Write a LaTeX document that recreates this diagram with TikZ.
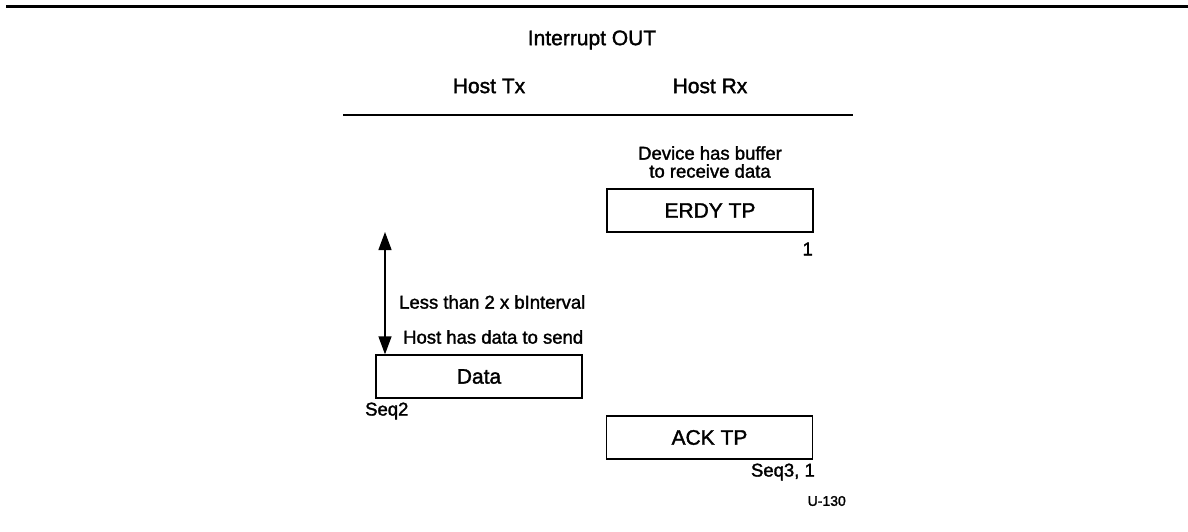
\documentclass[tikz,border=0pt]{standalone}
\usepackage{fontspec}
\setmainfont{Liberation Sans}
\newfontfamily\medfont[FakeBold=1.6]{Liberation Sans}
\usetikzlibrary{arrows.meta}
\begin{document}
\begin{tikzpicture}[x=1pt,y=-1pt,
  head/.style={font=\medfont\fontsize{21}{24}\selectfont, inner sep=0pt},
  small/.style={font=\medfont\fontsize{18.5}{18}\selectfont, inner sep=0pt},
  tiny/.style={font=\medfont\fontsize{14}{16}\selectfont, inner sep=0pt},
  pkt/.style={draw, line width=1.3pt, minimum width=206pt, minimum height=43pt, inner sep=0pt, font=\medfont\fontsize{21}{24}\selectfont},
  rule/.style={line width=1.3pt}]
\useasboundingbox (0,0) rectangle (1188,531);
\coordinate (tl) at (6,6.5);
\coordinate (tr) at (1188,6.5);
\draw[line width=2.2pt] (tl) -- (tr);
\node[head] (title) at (592,40) {Interrupt OUT};
\node[head] (htx) at (489,86) {Host Tx};
\node[head] (hrx) at (710,86) {Host Rx};
\coordinate (ll) at (343,115);
\coordinate (lr) at (853,115);
\draw[rule] (ll) -- (lr);
\node[small, align=center] (dev) at (710,162) {Device has buffer\\to receive data};
\node[pkt] (erdy) at (710,210.5) {ERDY TP};
\node[small, anchor=east] (one) at (813,249) {1};
\node[pkt] (data) at (479,376.5) {Data};
\node[small, anchor=west] (seq2) at (365,411) {Seq2};
\node[pkt] (ack) at (709.5,437.5) {ACK TP};
\node[small, anchor=east] (seq3) at (815,472) {Seq3, 1};
\node[tiny, anchor=east] (u130) at (846,501) {U-130};
\node[small, anchor=west] (less) at (399,302) {Less than 2 x bInterval};
\node[small, anchor=west] (hasdata) at (403,337) {Host has data to send};
\coordinate (arrtop) at (385,232);
\draw[rule, {Triangle[length=18pt,width=13pt]}-{Triangle[length=18pt,width=13pt]}] (arrtop) -- (arrtop |- data.north);
\end{tikzpicture}
\end{document}
